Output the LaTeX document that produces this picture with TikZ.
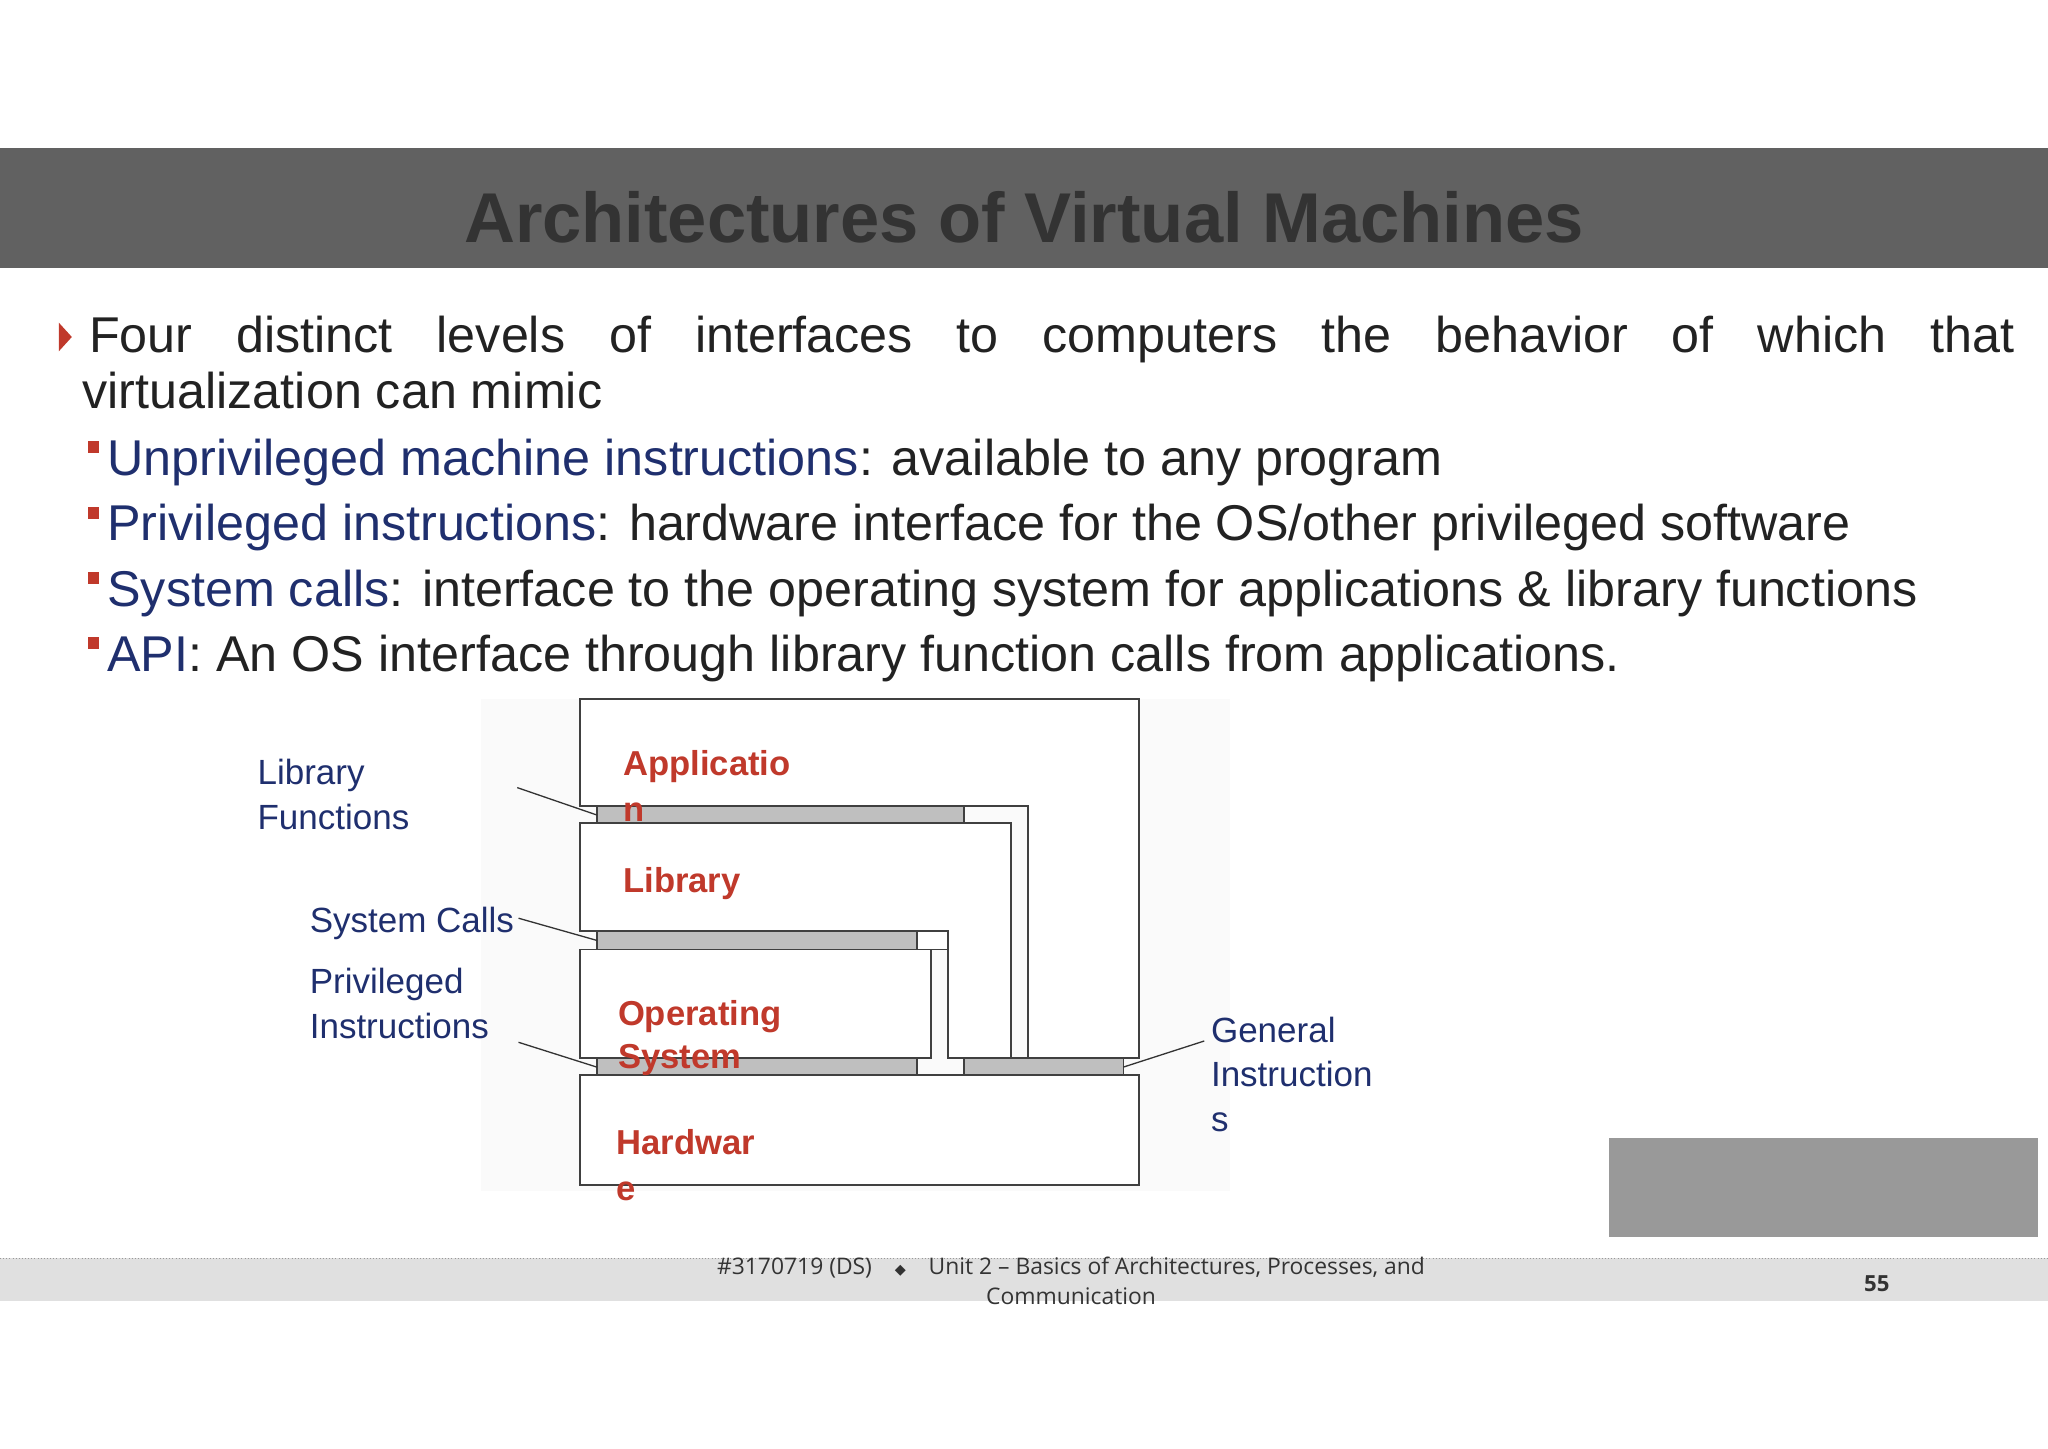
\documentclass[tikz,border=0pt]{standalone}
\usepackage{fontspec}
\setmainfont{Liberation Sans}
\newfontfamily\opensans{Open Sans}
\newfontfamily\dvs{DejaVu Sans}
\definecolor{tblue}{HTML}{1F2F6E}
\definecolor{tred}{HTML}{C0392B}
\definecolor{txt}{HTML}{222222}
\begin{document}
\begin{tikzpicture}[x=1pt,y=-1pt,
  body/.style={anchor=base west,inner sep=0,font=\fontsize{38.5}{40}\selectfont,text=txt},
  red/.style={anchor=base west,inner sep=0,font=\fontsize{26.5}{28}\selectfont\bfseries,text=tred},
  blu/.style={anchor=base west,inner sep=0,font=\fontsize{26.8}{28}\selectfont,text=tblue},
  frame/.style={draw=black!75,line width=1.3pt,fill=white},
  bar/.style={draw=black!75,line width=1pt,fill=black!25},
  lead/.style={draw=black!80,line width=1pt}]
\useasboundingbox (0,0) rectangle (1568,1109);
\fill[white] (0,0) rectangle (1568,1109);
% header
\fill[black!62] (0,113) rectangle (1568,205);
\node[inner sep=0,font=\fontsize{54}{56}\selectfont\bfseries,text=black!80] (title) at (784,166) {Architectures of Virtual Machines};
% bullets
\fill[tred] (45,247) -- (55,258) -- (45,269) -- cycle;
\node[body] (l1) at (68,270) {\hbox to 1474pt{Four\hfill distinct\hfill levels\hfill of\hfill interfaces\hfill to\hfill computers\hfill the\hfill behavior\hfill of\hfill which\hfill that}};
\node[body] (l2) at (63,313) {virtualization can mimic};
\fill[tred] (67,338) rectangle (76,347);
\fill[tred] (67,388) rectangle (76,397);
\fill[tred] (67,438) rectangle (76,447);
\fill[tred] (67,488) rectangle (76,497);
\node[body] (s1) at (82,364) {\textcolor{tblue}{Unprivileged machine instructions}: available to any program};
\node[body] (s2) at (82,414) {\textcolor{tblue}{Privileged instructions}: hardware interface for the OS/other privileged software};
\node[body] (s3) at (82,464) {\textcolor{tblue}{System calls}: interface to the operating system for applications \& library functions};
\node[body] (s4) at (82,514) {\textcolor{tblue}{API}: An OS interface through library function calls from applications.};
% diagram
\fill[black!2] (368,535) rectangle (942,912);
\draw[frame] (444,535) -- (872,535) -- (872,810) -- (787,810) -- (787,617) -- (444,617) -- cycle;
\draw[frame] (444,630) -- (774,630) -- (774,810) -- (726,810) -- (726,713) -- (444,713) -- cycle;
\draw[bar] (457,617) rectangle (738,630);
\draw[bar] (457,713) rectangle (702,727);
\draw[frame] (702,713) rectangle (726,727);
\draw[frame] (444,727) rectangle (713,810);
\draw[bar] (457,810) rectangle (702,823);
\draw[bar] (738,810) rectangle (860,823);
\draw[frame] (444,823) rectangle (872,907);
\node[red] (app) at (477,594) {Applicatio};
\node[red] (app2) at (477,629) {n};
\node[red] (lib) at (477,683) {Library};
\node[red] (os) at (473,785) {Operating};
\node[red] (os2) at (473,818) {System};
\node[red] (hw) at (472,884) {Hardwar};
\node[red] (hw2) at (472,919) {e};
\node[blu] (lf) at (197,601) {Library};
\node[blu] (lf2) at (197,635) {Functions};
\node[blu] (sc) at (237,714) {System Calls};
\node[blu] (pi) at (237,761) {Privileged};
\node[blu] (pi2) at (237,795) {Instructions};
\node[blu] (gi) at (927,798) {General};
\node[blu] (gi2) at (927,832) {Instruction};
\node[blu] (gi3) at (927,866) {s};
\coordinate (a1) at (396,603); \coordinate (b1) at (457,624);
\coordinate (a2) at (397,703); \coordinate (b2) at (457,720);
\coordinate (a3) at (397,798); \coordinate (b3) at (457,817);
\coordinate (a4) at (922,797); \coordinate (b4) at (860,817);
\draw[lead] (a1)--(b1); \draw[lead] (a2)--(b2); \draw[lead] (a3)--(b3); \draw[lead] (a4)--(b4);
% gray box
\fill[black!40] (1232,871) rectangle (1560,947);
% footer
\fill[black!12] (0,963) rectangle (1568,996);
\draw[black!40,dotted] (0,963) -- (1568,963);
\node[inner sep=0,anchor=base,font=\opensans\fontsize{17.5}{19}\selectfont,text=black!80] (f1) at (820,976) {\#3170719 (DS)\quad{\dvs\fontsize{11}{12}\selectfont◆}\quad Unit 2 – Basics of Architectures, Processes, and};
\node[inner sep=0,anchor=base,font=\opensans\fontsize{17.5}{19}\selectfont,text=black!80] (f2) at (820,999) {Communication};
\node[inner sep=0,anchor=base,font=\opensans\fontsize{17}{19}\selectfont\bfseries,text=black!80] (pg) at (1437,989) {55};
\end{tikzpicture}
\end{document}
